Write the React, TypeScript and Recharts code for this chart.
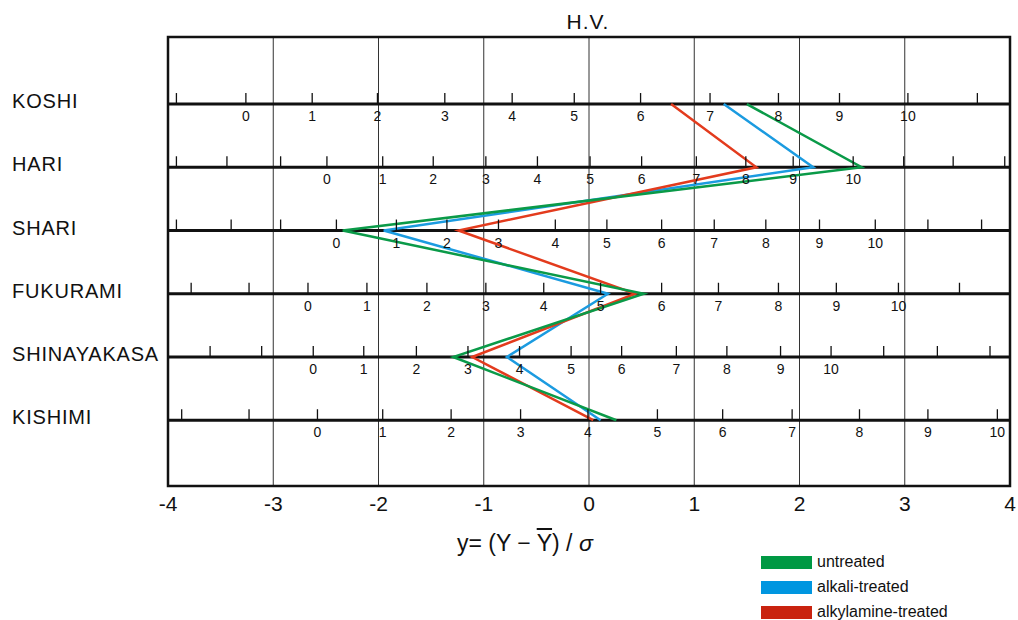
import { ComposedChart, Line, XAxis, YAxis, CartesianGrid, ReferenceLine, ReferenceDot, ReferenceArea } from 'recharts';

const rowNames = ['KOSHI', 'HARI', 'SHARI', 'FUKURAMI', 'SHINAYAKASA', 'KISHIMI'];

// standardized scores y = (Y - mean) / sigma, one per row
const untreated = [1.5, 2.59, -2.34, 0.52, -1.29, 0.26];
const alkaliTreated = [1.28, 2.13, -1.95, 0.18, -0.78, 0.11];
const alkylamineTreated = [0.78, 1.59, -1.24, 0.44, -1.11, 0.04];

const xTicks = [-4, -3, -2, -1, 0, 1, 2, 3, 4];

// each row carries its own H.V. grade scale; first grade shown, then where each grade sits on y
const scaleStart = [-1, -3, -3, -2, -2, -2];
const koshiScale = [-3.92, -3.26, -2.63, -2.01, -1.37, -0.73, -0.14, 0.49, 1.15, 1.8, 2.38, 3.03, 3.69];
const hariScale = [-3.92, -3.44, -2.93, -2.49, -1.96, -1.48, -0.98, -0.49, 0.01, 0.5, 1.02, 1.49, 1.94, 2.51, 2.99, 3.46, 3.95];
const shariScale = [-3.92, -3.4, -2.93, -2.4, -1.83, -1.35, -0.86, -0.32, 0.17, 0.69, 1.19, 1.68, 2.19, 2.72, 3.22, 3.73];
const fukuramiScale = [-3.78, -3.23, -2.67, -2.11, -1.54, -0.98, -0.43, 0.11, 0.69, 1.23, 1.8, 2.35, 2.94, 3.52];
const shinayakasaScale = [-3.6, -3.11, -2.62, -2.14, -1.64, -1.15, -0.66, -0.17, 0.31, 0.83, 1.31, 1.82, 2.3, 2.8, 3.31, 3.81];
const kishimiScale = [-3.87, -3.23, -2.58, -1.96, -1.31, -0.65, -0.01, 0.65, 1.27, 1.93, 2.57, 3.22, 3.88];
const rowScales = [koshiScale, hariScale, shariScale, fukuramiScale, shinayakasaScale, kishimiScale];

const series = [
  { key: 'alkali', name: 'alkali-treated', color: '#1b9be0', swatch: '#0096e0' },
  { key: 'alkylamine', name: 'alkylamine-treated', color: '#e33b1d', swatch: '#c9230f' },
  { key: 'untreated', name: 'untreated', color: '#0a9a48', swatch: '#009944' },
];
const legendOrder = ['untreated', 'alkali', 'alkylamine'];

const data = rowNames.map((name, i) => ({
  idx: i + 1,
  name,
  untreated: untreated[i],
  alkali: alkaliTreated[i],
  alkylamine: alkylamineTreated[i],
}));

const scalePoints = rowScales.flatMap((positions, r) =>
  positions.map((x, j) => ({ row: r + 1, x, grade: scaleStart[r] + j }))
);

const FONT = '"Liberation Sans", Arial, sans-serif';

function ScaleMark(props: any) {
  const { cx, cy, grade } = props;
  return (
    <g>
      <line x1={cx} x2={cx} y1={cy - 11} y2={cy} stroke="#111" strokeWidth={1.3} />
      {grade >= 0 && grade <= 10 && (
        <text x={cx} y={cy + 12} textAnchor="middle" dominantBaseline="central" fontSize={14} fontFamily={FONT} fill="#111">
          {grade}
        </text>
      )}
    </g>
  );
}

function RowName({ y, payload }: any) {
  return (
    <text x={12} y={y - 3} dominantBaseline="central" fontSize={20} letterSpacing={0.8} fontFamily={FONT} fill="#111">
      {rowNames[payload.value - 1]}
    </text>
  );
}

function ValueTick({ x, y, payload }: any) {
  return (
    <text x={x} y={y} dy={9} textAnchor="middle" dominantBaseline="central" fontSize={21} fontFamily={FONT} fill="#111">
      {payload.value}
    </text>
  );
}

export default function App() {
  return (
    <div style={{ position: 'absolute', left: 0, top: 0, width: 1018, height: 620, background: '#fff', fontFamily: FONT }}>
      <div style={{ position: 'absolute', left: 538, top: 10, width: 100, textAlign: 'center', fontSize: 21, letterSpacing: 1, color: '#111' }}>
        H.V.
      </div>
      <ComposedChart
        width={1018}
        height={620}
        layout="vertical"
        data={data}
        margin={{ top: 37, right: 8, bottom: 94, left: 0 }}
      >
        <CartesianGrid horizontal={false} stroke="#333" strokeWidth={1} />
        <XAxis
          type="number"
          domain={[-4, 4]}
          ticks={xTicks}
          axisLine={false}
          tickLine={false}
          tickSize={6}
          tickMargin={2}
          height={40}
          tick={ValueTick}
        />
        <YAxis
          type="number"
          dataKey="idx"
          domain={[-0.06, 7.04]}
          ticks={[1, 2, 3, 4, 5, 6]}
          axisLine={false}
          tickLine={false}
          width={168}
          tick={RowName}
        />
        {data.map((d) => (
          <ReferenceLine key={d.name} y={d.idx} stroke="#111" strokeWidth={3} />
        ))}
        {scalePoints.map((p, i) => (
          <ReferenceDot
            key={i}
            x={p.x}
            y={p.row}
            r={0}
            ifOverflow="visible"
            shape={(s: any) => <ScaleMark {...s} grade={p.grade} />}
          />
        ))}
        <ReferenceArea x1={-4} x2={4} y1={-0.06} y2={7.04} fill="none" stroke="#111" strokeWidth={2.5} ifOverflow="visible" />
        {series.map((s) => (
          <Line
            key={s.key}
            dataKey={s.key}
            name={s.name}
            type="linear"
            stroke={s.color}
            strokeWidth={2.5}
            dot={false}
            isAnimationActive={false}
          />
        ))}
      </ComposedChart>
      <div style={{ position: 'absolute', left: 457, top: 530, fontSize: 23, color: '#111', whiteSpace: 'nowrap' }}>
        y= (Y − <span style={{ textDecoration: 'overline' }}>Y</span>) / <i>σ</i>
      </div>
      {legendOrder.map((k, i) => {
        const s = series.find((x) => x.key === k)!;
        return (
          <div key={k} style={{ position: 'absolute', left: 761, top: 555 + i * 25, display: 'flex', alignItems: 'center', height: 14 }}>
            <div style={{ width: 51, height: 13, background: s.swatch }} />
            <span style={{ marginLeft: 5, fontSize: 16, color: '#111' }}>{s.name}</span>
          </div>
        );
      })}
    </div>
  );
}
